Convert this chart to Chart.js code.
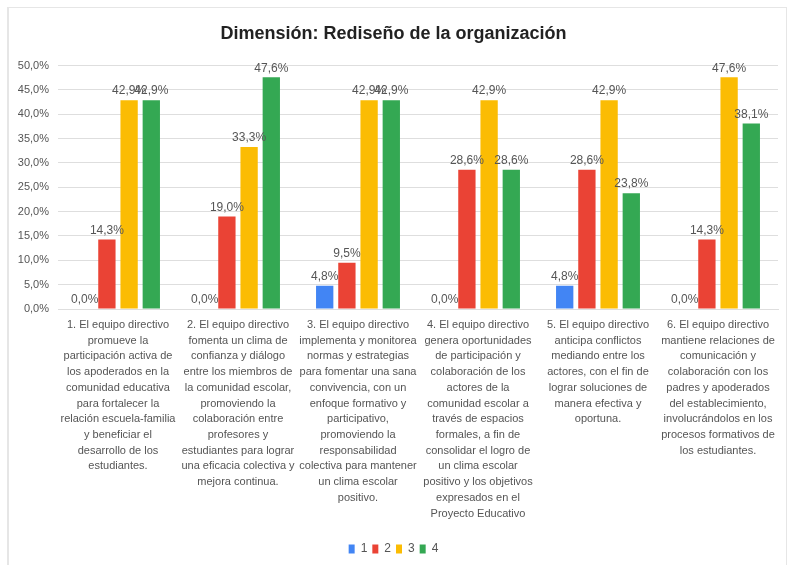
<!DOCTYPE html>
<html lang="es">
<head>
  <meta charset="UTF-8">
  <title>Dimensión: Rediseño de la organización</title>
  <script src="https://cdn.jsdelivr.net/npm/chart.js"></script>
  <style>
    body {
      margin: 0;
      background: #fff;
      width: 789px;
      height: 565px;
      overflow: hidden;
      position: relative;
    }
    .marco {
      position: absolute;
      left: 7px;
      top: 7px;
      width: 777px;
      height: 560px;
      border: 1px solid #e6e6e6;
      border-left: 2px solid #e6e6e6;
    }
  </style>
</head>
<body>
  <div class="marco">
    <canvas id="grafico" width="777" height="557"></canvas>
  </div>

  <script>
    const FUENTE = "'Liberation Sans', Arial, sans-serif";

    const categorias = [
      ["1. El equipo directivo", "promueve la", "participación activa de", "los apoderados en la",
       "comunidad educativa", "para fortalecer la", "relación escuela-familia", "y beneficiar el",
       "desarrollo de los", "estudiantes."],
      ["2. El equipo directivo", "fomenta un clima de", "confianza y diálogo", "entre los miembros de",
       "la comunidad escolar,", "promoviendo la", "colaboración entre", "profesores y",
       "estudiantes para lograr", "una eficacia colectiva y", "mejora continua."],
      ["3. El equipo directivo", "implementa y monitorea", "normas y estrategias", "para fomentar una sana",
       "convivencia, con un", "enfoque formativo y", "participativo,", "promoviendo la",
       "responsabilidad", "colectiva para mantener", "un clima escolar", "positivo."],
      ["4. El equipo directivo", "genera oportunidades", "de participación y", "colaboración de los",
       "actores de la", "comunidad escolar a", "través de espacios", "formales, a fin de",
       "consolidar el logro de", "un clima escolar", "positivo y los objetivos", "expresados en el",
       "Proyecto Educativo"],
      ["5. El equipo directivo", "anticipa conflictos", "mediando entre los", "actores, con el fin de",
       "lograr soluciones de", "manera efectiva y", "oportuna."],
      ["6. El equipo directivo", "mantiene relaciones de", "comunicación y", "colaboración con los",
       "padres y apoderados", "del establecimiento,", "involucrándolos en los", "procesos formativos de",
       "los estudiantes."]
    ];

    const serie1 = [0.0, 0.0, 4.8, 0.0, 4.8, 0.0];
    const serie2 = [14.3, 19.0, 9.5, 28.6, 28.6, 14.3];
    const serie3 = [42.9, 33.3, 42.9, 42.9, 42.9, 47.6];
    const serie4 = [42.9, 47.6, 42.9, 28.6, 23.8, 38.1];

    const nombresSeries = ["1", "2", "3", "4"];
    const colores = ["#4285F4", "#EA4335", "#FBBC04", "#34A853"];

    const formatoPct = v => v.toFixed(1).replace('.', ',') + '%';

    // etiquetas de valor encima de cada barra
    const etiquetasValor = {
      id: 'etiquetasValor',
      afterDatasetsDraw(chart) {
        const ctx = chart.ctx;
        ctx.save();
        ctx.font = "12px " + FUENTE;
        ctx.fillStyle = "#555";
        ctx.textAlign = "center";
        ctx.textBaseline = "bottom";
        chart.data.datasets.forEach((ds, i) => {
          const meta = chart.getDatasetMeta(i);
          meta.data.forEach((barra, j) => {
            ctx.fillText(formatoPct(ds.data[j]), barra.x, barra.y - 3);
          });
        });
        ctx.restore();
      }
    };

    const series = [serie1, serie2, serie3, serie4];

    new Chart(document.getElementById('grafico'), {
      type: 'bar',
      data: {
        labels: categorias,
        datasets: series.map((s, i) => ({
          label: nombresSeries[i],
          data: s,
          backgroundColor: colores[i],
          categoryPercentage: 0.74,
          barPercentage: 0.78
        }))
      },
      options: {
        responsive: false,
        animation: false,
        layout: { padding: { left: 0, right: 8, top: 0, bottom: 0 } },
        scales: {
          y: {
            min: 0,
            max: 50,
            ticks: {
              stepSize: 5,
              padding: 9,
              color: "#555",
              font: { family: FUENTE, size: 11 },
              callback: v => formatoPct(v)
            },
            grid: { color: "#dedede", drawTicks: false },
            border: { display: false },
            afterFit(scale) { scale.width = 49; }
          },
          x: {
            ticks: {
              color: "#555",
              padding: 8,
              maxRotation: 0,
              autoSkip: false,
              font: { family: FUENTE, size: 11, lineHeight: 1.43 }
            },
            grid: { display: false, drawTicks: false },
            border: { display: true, color: "#dedede" },
            afterFit(scale) { scale.height = 229; }
          }
        },
        plugins: {
          title: {
            display: true,
            text: "Dimensión: Rediseño de la organización",
            color: "#222",
            font: { family: FUENTE, size: 18, weight: 'bold', lineHeight: 1.2 },
            padding: { top: 15, bottom: 21 }
          },
          legend: {
            position: 'bottom',
            labels: {
              boxWidth: 6,
              boxHeight: 9,
              padding: 5,
              color: "#555",
              font: { family: FUENTE, size: 12 }
            }
          },
          tooltip: { enabled: false }
        }
      },
      plugins: [etiquetasValor]
    });
  </script>
</body>
</html>
